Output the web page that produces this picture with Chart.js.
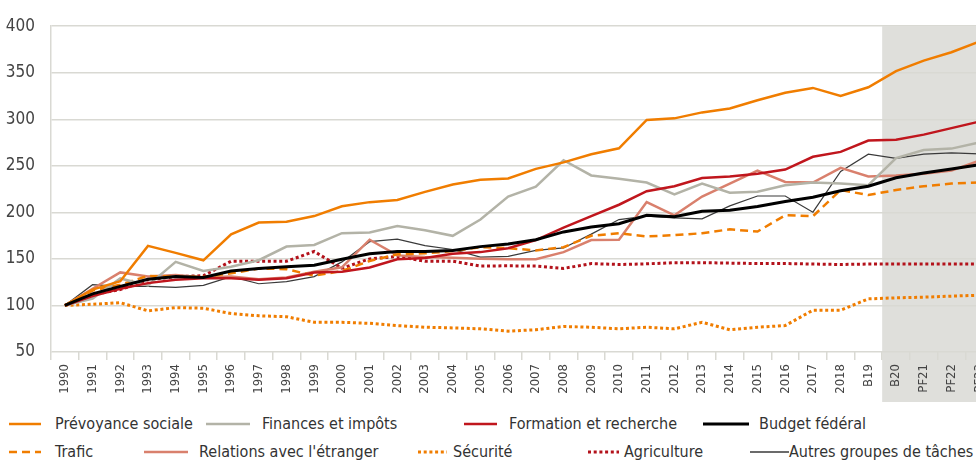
<!DOCTYPE html>
<html><head><meta charset="utf-8">
<script src="https://cdn.jsdelivr.net/npm/chart.js@4"></script>
<style>
html,body{margin:0;padding:0;width:976px;height:460px;overflow:hidden;background:#fff;}
#wrap{position:absolute;left:0;top:0;width:1000px;height:405px;}
#legend{position:absolute;left:0;top:405px;width:976px;height:55px;}
.item{position:absolute;height:20px;}
.item svg{position:absolute;top:7px;}
.item span{position:absolute;top:0;line-height:20px;font-family:"Liberation Sans Narrow","DejaVu Sans Condensed",Roboto,sans-serif;font-size:16px;color:#333;white-space:nowrap;}
</style></head>
<body>
<div id="wrap"><canvas id="c" width="1000" height="405"></canvas></div>
<div id="legend"></div>
<script>
const labels = ['1990','1991','1992','1993','1994','1995','1996','1997','1998','1999','2000','2001','2002','2003','2004','2005','2006','2007','2008','2009','2010','2011','2012','2013','2014','2015','2016','2017','2018','B19','B20','PF21','PF22','PF23'];
const yTicks = [50,100,150,200,250,300,350,400];

const prevoyance = [100,117,126,164,156.5,148.5,176.5,189,190,196,206.5,211,213.4,222,230,235,236.5,246.7,253.7,262.5,268.8,299.3,301,307.4,311.6,320.4,328.5,333.7,325,334.4,351.7,363,372,383.5];
const finances = [100,107.5,129,121.5,146.8,137,141.5,148.6,163.3,165,177.6,178.3,185.4,180.8,174.8,192.3,216.9,227.5,256,239.7,236.2,232,219.4,231,221.2,222.2,229.2,232,231,229.2,258.3,267,268.5,275];
const formation = [100,110,118,124,127.5,129.2,129.2,127.5,129.2,135.5,136.3,140.8,149.6,151,155.5,157.3,161.5,170.2,183.6,195.9,208.2,222.8,228.1,236.9,238.6,241.5,246,259.7,265,277.2,278,283.5,290.5,297.5];
const budget = [100,112.4,120.5,128.2,131,130,137,139.7,141.5,143.3,149.6,155.5,158,158,159,163.2,166,170.6,179,184.3,187.8,196.9,195.2,201.2,202.2,206.4,211.7,216.2,223.3,228.1,237.2,242.2,246.7,251.2];
const trafic = [100,116,122.3,131.8,131,130.7,134.5,139.7,139,132,137,147.8,154.9,156,158.4,162.6,161.5,159.1,162.6,174.9,177.6,174.1,175.5,177.6,181.8,179.4,196.9,195.9,224,218.6,224,228.1,231,232];
const relations = [100,118,135.5,131,132.8,130,131,128.2,130,136.3,141,170.6,153.8,152,151.3,150.3,149.6,149.6,157.3,170.2,170.6,211,196.9,217,231,244.9,232.7,232,247.8,238.6,239.7,241.5,244.9,255.4];
const securite = [100,101.3,103,94.2,97.7,97,91.3,88.9,87.9,81.9,81.9,80.8,78.4,76.6,75.9,74.9,72.4,73.9,77.4,76.6,74.9,76.6,74.9,81.9,73.9,76.6,78.4,94.9,94.9,107.1,108.2,108.9,110,111];
const agriculture = [100,111.7,117,127.5,131,132,147.5,147.5,147.5,158,140,150,152.7,147.5,147.5,142.3,142.6,142.3,139.8,145,144,144.7,146,146,145.5,145,145,144.5,144,144.5,144.5,144.5,144.5,144.5];
const autres = [100,122.3,120.5,120.5,119.4,121.5,131,123.3,125.7,131,146.8,168.5,171.3,164.3,160.1,152,152.7,159.1,161.8,176.6,192.3,195.9,194.1,193.1,207,217.6,217.6,200.2,244,262.5,258,262.5,263.9,262.8];

const seriesNames = ['Prévoyance sociale','Finances et impôts','Formation et recherche','Budget fédéral','Trafic',"Relations avec l'étranger",'Sécurité','Agriculture','Autres groupes de tâches'];

const ORANGE = '#f07d00';
const styles = [
  {data: prevoyance, color: ORANGE, w: 2.5, dash: []},
  {data: finances, color: '#b3b3a7', w: 2.5, dash: []},
  {data: formation, color: '#c0161d', w: 2.5, dash: []},
  {data: budget, color: '#000000', w: 3, dash: []},
  {data: trafic, color: ORANGE, w: 2.5, dash: [8,5]},
  {data: relations, color: '#d9806d', w: 2.5, dash: []},
  {data: securite, color: ORANGE, w: 3, dash: [3,2.7]},
  {data: agriculture, color: '#b3121b', w: 3, dash: [3,2.7]},
  {data: autres, color: '#3a3a3a', w: 1.2, dash: []}
];
const order = [8,7,6,5,4,1,2,0,3];

const FONT = '"Liberation Sans Narrow","DejaVu Sans Condensed",Roboto,sans-serif';
const GRID = '#d9d9d3';

const datasets = styles.map((s,i)=>({
  label: seriesNames[i], data: s.data, borderColor: s.color, backgroundColor: s.color,
  borderWidth: s.w, borderDash: s.dash, pointRadius: 0, tension: 0, fill: false,
  order: 100 - order.indexOf(i)
}));

const shade = {
  id: 'shade',
  beforeDraw(chart){
    const {ctx, chartArea, scales:{x}} = chart;
    const i = labels.indexOf('B20');
    const x0 = (x.getPixelForValue(i-1) + x.getPixelForValue(i))/2;
    ctx.save();
    ctx.fillStyle = '#dfdfdb';
    ctx.fillRect(x0, chartArea.top, chart.width - x0, chartArea.bottom + 50 - chartArea.top);
    ctx.restore();
  }
};

new Chart(document.getElementById('c'), {
  type: 'line',
  data: {labels, datasets},
  plugins: [shade],
  options: {
    responsive: false, animation: false,
    layout: {padding: {top: 19, right: 7, left: 0, bottom: 0}},
    plugins: {legend: {display: false}, tooltip: {enabled: false}},
    scales: {
      x: {
        offset: true,
        grid: {offset: true, drawOnChartArea: false, drawTicks: true, tickLength: 8, color: GRID, lineWidth: 1.5},
        border: {display: false},
        ticks: {minRotation: 90, maxRotation: 90, autoSkip: false, padding: 4, color: '#444', font: {family: FONT, size: 13}},
        afterFit(s){ s.height = 53; }
      },
      y: {
        min: 50, max: 400,
        afterBuildTicks(s){ s.ticks = yTicks.map(v=>({value:v})); },
        grid: {color: GRID, lineWidth: 1.5, drawTicks: false},
        border: {display: true, color: GRID, width: 1.5},
        ticks: {padding: 16, color: '#444', font: {family: FONT, size: 17}},
        afterFit(s){ s.width = 51; }
      }
    }
  }
});

const legendPos = [
  {row:0, lx:9, lw:32, tx:55},
  {row:0, lx:206, lw:44, tx:262},
  {row:0, lx:464, lw:33, tx:509},
  {row:0, lx:703, lw:46, tx:759},
  {row:1, lx:9, lw:32, tx:55},
  {row:1, lx:144, lw:44, tx:199},
  {row:1, lx:418, lw:29, tx:453},
  {row:1, lx:588, lw:31, tx:624},
  {row:1, lx:750, lw:39, tx:789}
];
const leg = document.getElementById('legend');
legendPos.forEach((p,i)=>{
  const s = styles[i];
  const top = p.row === 0 ? 9 : 37;
  const d = document.createElement('div');
  d.className = 'item';
  d.style.left = '0px'; d.style.top = top + 'px';
  const dash = s.dash.length ? ` stroke-dasharray="${s.dash.join(',')}"` : '';
  d.innerHTML = `<svg style="left:${p.lx}px" width="${p.lw}" height="6"><line x1="0" y1="3" x2="${p.lw}" y2="3" stroke="${s.color}" stroke-width="${Math.max(s.w,1.5)}"${dash}/></svg><span style="left:${p.tx}px">${seriesNames[i]}</span>`;
  leg.appendChild(d);
});
</script>
</body></html>
